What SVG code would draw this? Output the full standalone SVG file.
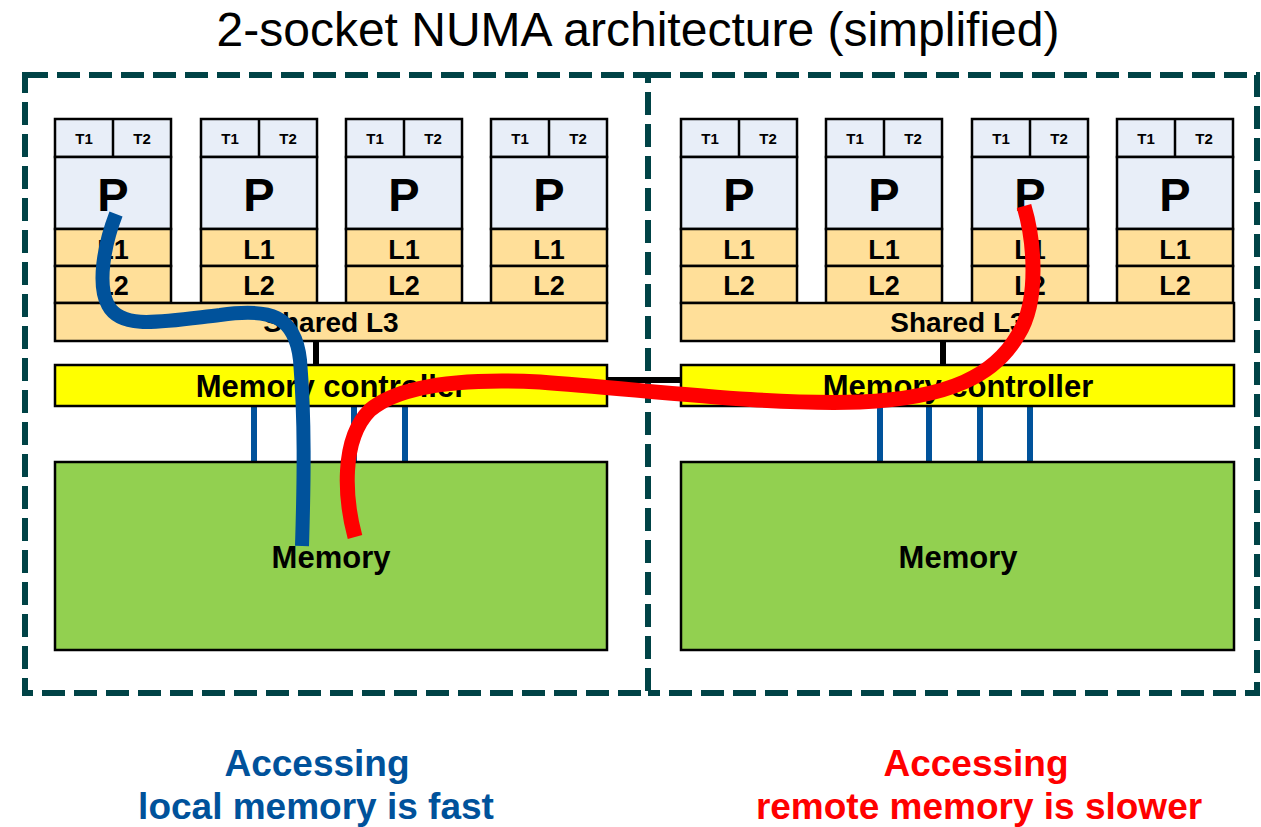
<svg xmlns="http://www.w3.org/2000/svg" width="1261" height="827" viewBox="0 0 1261 827">
<style>
.bx{stroke:#000;stroke-width:2.5}
.th{fill:#E8EEF8}
.ca{fill:#FFDF99}
.mc{fill:#FFFF00}
.mem{fill:#92D050}
.t{font-family:"Liberation Sans",Arial,sans-serif;font-weight:bold;text-anchor:middle;fill:#000}
.tt{font-size:15px}
.tp{font-size:47px}
.tl{font-size:27px}
.tb{font-size:31px}
.dash{fill:none;stroke:#004346;stroke-width:6;stroke-dasharray:23 9}
.ch{stroke:#00529B;stroke-width:6}
.bk{stroke:#000;stroke-width:6}
</style>
<defs>
<g id="core">
<rect class="bx th" x="0" y="0" width="116" height="38"/>
<line class="bx" x1="58" y1="0" x2="58" y2="38"/>
<rect class="bx th" x="0" y="38" width="116" height="72"/>
<rect class="bx ca" x="0" y="110" width="116" height="37"/>
<rect class="bx ca" x="0" y="147" width="116" height="37"/>
<text class="t tt" x="29" y="25">T1</text>
<text class="t tt" x="87" y="25">T2</text>
<text class="t tp" x="58" y="92">P</text>
<text class="t tl" x="58" y="140">L1</text>
<text class="t tl" x="58" y="176">L2</text>
</g>
</defs>
<text x="638" y="46" style="font-family:'Liberation Sans',Arial,sans-serif;font-size:48px;text-anchor:middle;fill:#000">2-socket NUMA architecture (simplified)</text>
<g id="socket-left">
<rect class="dash" x="25" y="75" width="623" height="618"/>
</g>
<g id="socket-right">
<path class="dash" d="M 648 75 H 1257 V 693 H 648"/>
</g>
<g id="connectors-static">
<line class="bk" x1="316" y1="340" x2="316" y2="366"/>
<line class="bk" x1="943" y1="340" x2="943" y2="366"/>
<line class="bk" x1="606" y1="380" x2="682" y2="380"/>
<line class="ch" x1="254" y1="405" x2="254" y2="463"/>
<line class="ch" x1="304" y1="405" x2="304" y2="463"/>
<line class="ch" x1="354" y1="405" x2="354" y2="463"/>
<line class="ch" x1="405" y1="405" x2="405" y2="463"/>
<line class="ch" x1="880" y1="405" x2="880" y2="463"/>
<line class="ch" x1="929" y1="405" x2="929" y2="463"/>
<line class="ch" x1="980" y1="405" x2="980" y2="463"/>
<line class="ch" x1="1030" y1="405" x2="1030" y2="463"/>
</g>
<g id="cores-left">
<use href="#core" x="55" y="119"/>
<use href="#core" x="201" y="119"/>
<use href="#core" x="346" y="119"/>
<use href="#core" x="491" y="119"/>
</g>
<g id="cores-right">
<use href="#core" x="681" y="119"/>
<use href="#core" x="826" y="119"/>
<use href="#core" x="972" y="119"/>
<use href="#core" x="1117" y="119"/>
</g>
<g id="l3-left">
<rect class="bx ca" x="55" y="303" width="552" height="38"/>
<text class="t tl" x="331" y="332" style="font-size:28px">Shared L3</text>
</g>
<g id="l3-right">
<rect class="bx ca" x="681" y="303" width="553" height="38"/>
<text class="t tl" x="958" y="332" style="font-size:28px">Shared L3</text>
</g>
<g id="mc-left">
<rect class="bx mc" x="55" y="365" width="552" height="41"/>
<text class="t tb" x="331" y="397">Memory controller</text>
</g>
<g id="mc-right">
<rect class="bx mc" x="681" y="365" width="553" height="41"/>
<text class="t tb" x="958" y="397">Memory controller</text>
</g>
<g id="mem-left">
<rect class="bx mem" x="55" y="462" width="552" height="188"/>
<text class="t tb" x="331" y="568">Memory</text>
</g>
<g id="mem-right">
<rect class="bx mem" x="681" y="462" width="553" height="188"/>
<text class="t tb" x="958" y="568">Memory</text>
</g>
<g id="access-paths">
<path d="M 116 214 C 104 245, 97 285, 108 305 C 121 330, 160 322, 220 315 C 270 308, 295 315, 300 360 C 305 420, 304 480, 302 546" fill="none" stroke="#00529B" stroke-width="14"/>
<path d="M 1024 206 C 1034 240, 1040 300, 1018 335 C 995 375, 950 398, 860 402 C 760 405, 650 390, 540 382 C 460 378, 400 385, 370 410 C 340 440, 345 500, 355 537" fill="none" stroke="#FF0000" stroke-width="15"/>
</g>
<g id="captions">
<text class="t" x="317" y="776" style="font-size:37px;fill:#00529B">Accessing</text>
<text class="t" x="316" y="819" style="font-size:37px;fill:#00529B">local memory is fast</text>
<text class="t" x="976" y="776" style="font-size:37px;fill:#FF0000">Accessing</text>
<text class="t" x="979" y="819" style="font-size:37px;fill:#FF0000">remote memory is slower</text>
</g>
</svg>
